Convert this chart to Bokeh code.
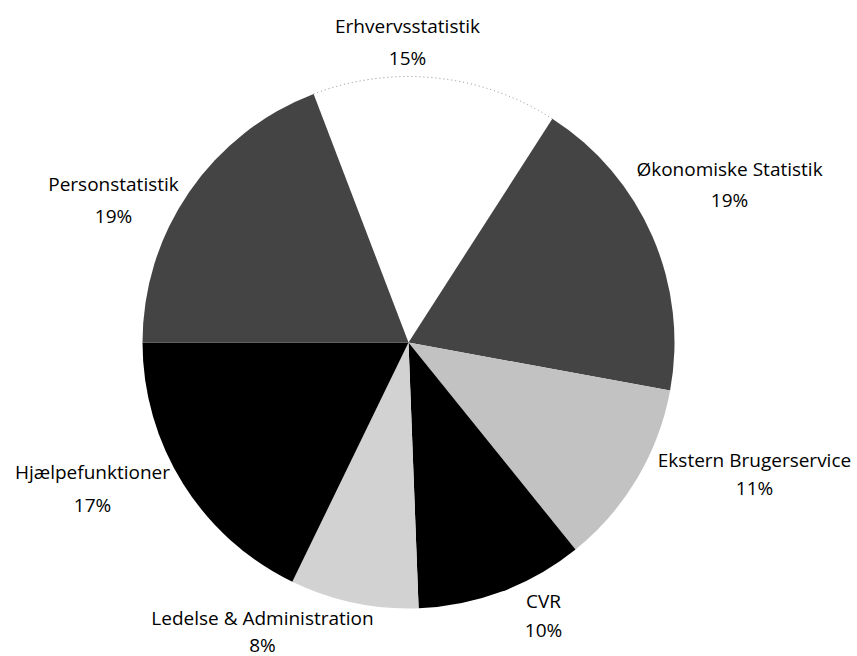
import math
from bokeh.plotting import figure
from bokeh.models import Range1d, ColumnDataSource
from bokeh.core.properties import value
from bokeh.embed import file_html
from bokeh.resources import INLINE

# Data (shares, clockwise from the top)
categories = ["Erhvervsstatistik", "Økonomiske Statistik", "Ekstern Brugerservice",
              "CVR", "Ledelse & Administration", "Hjælpefunktioner", "Personstatistik"]
shares = [14.9, 18.8, 11.3, 10.2, 7.8, 17.8, 19.2]
pct_labels = ["15%", "19%", "11%", "10%", "8%", "17%", "19%"]
colors = ["#ffffff", "#444444", "#c2c2c2", "#000000", "#d2d2d2", "#000000", "#444444"]

# Layout (canvas pixel coordinates, y measured from the top)
W, H = 857, 656
cx, cy, R = 408, 342, 266
start_cw_deg = -20.9  # clockwise from 12 o'clock
# label anchors (centre x, y of first line, line pitch)
label_pos = [(407, 25, 32), (729, 168, 31), (754, 459, 28), (543, 600, 29),
             (262, 617, 27), (92, 471, 33), (113, 183, 32)]

total = sum(shares)
starts, ends = [], []
acc = start_cw_deg
for s in shares:
    a0 = acc
    a1 = acc + s / total * 360.0
    acc = a1
    # convert clockwise-from-top to math angles (anticlockwise from +x)
    starts.append(math.radians(90 - a1))
    ends.append(math.radians(90 - a0))

src = ColumnDataSource(dict(start=starts, end=ends, color=colors, cat=categories))

p = figure(width=W, height=H, output_backend="svg", toolbar_location=None,
           x_range=Range1d(0, W), y_range=Range1d(H, 0),
           min_border=0, outline_line_color=None)
p.axis.visible = False
p.grid.visible = False
p.background_fill_color = "white"
p.border_fill_color = "white"

p.wedge(x=cx, y=cy, radius=R, start_angle="start", end_angle="end",
        fill_color="color", line_color=None, source=src)
# faint dotted outline on the white slice
p.arc(x=cx, y=cy, radius=R, start_angle=starts[0], end_angle=ends[0],
      line_color="#8a8a8a", line_width=1, line_dash="1 3")

xs, ys, txt = [], [], []
for cat, pct, (lx, ly, pitch) in zip(categories, pct_labels, label_pos):
    xs += [lx, lx]
    ys += [ly, ly + pitch]
    txt += [cat, pct]
p.text(x=xs, y=ys, text=txt, text_align="center", text_baseline="alphabetic",
       text_font=value("Open Sans"), text_font_size="19px", text_color="#000000")

open("out.html", "w").write(file_html(p, INLINE))
